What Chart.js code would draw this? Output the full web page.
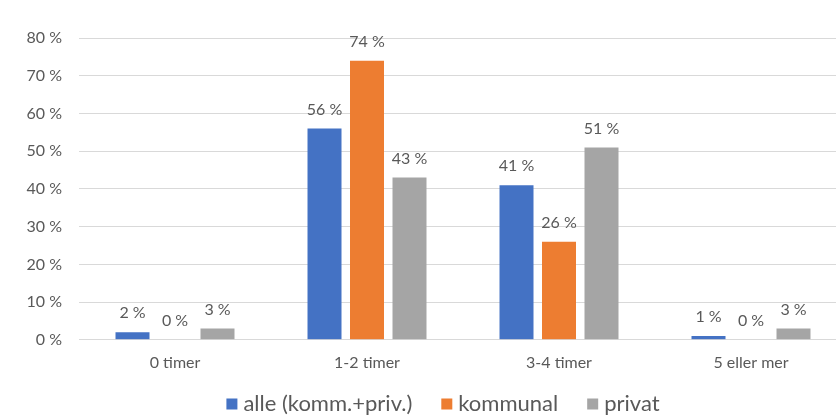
<!DOCTYPE html>
<html>
<head>
<meta charset="utf-8">
<script src="https://cdn.jsdelivr.net/npm/chart.js@4/dist/chart.umd.min.js"></script>
<style>
  html, body { margin: 0; padding: 0; background: #fff; overflow: hidden; }
  #wrap { width: 836px; height: 416px; overflow: hidden; }
</style>
</head>
<body>
<div id="wrap"><canvas id="c" width="847" height="416"></canvas></div>
<script>
// Categories and series (percent)
const categories = ['0 timer', '1-2 timer', '3-4 timer', '5 eller mer'];
const alle = [2, 56, 41, 1];
const kommunal = [0, 74, 26, 0];
const privat = [3, 43, 51, 3];
const seriesNames = ['alle (komm.+priv.)', 'kommunal', 'privat'];
const seriesColors = ['#4472c4', '#ed7d31', '#a5a5a5'];
const yTicks = [0, 10, 20, 30, 40, 50, 60, 70, 80];

const FONT = 'Lato, "Liberation Sans", sans-serif';
const TEXT = '#595959';

// Value labels above each bar
const valueLabels = {
  id: 'valueLabels',
  afterDatasetsDraw(chart) {
    const ctx = chart.ctx;
    ctx.save();
    ctx.font = '16px ' + FONT;
    ctx.fillStyle = TEXT;
    ctx.textAlign = 'center';
    ctx.textBaseline = 'middle';
    chart.data.datasets.forEach((ds, i) => {
      chart.getDatasetMeta(i).data.forEach((bar, j) => {
        ctx.fillText(ds.data[j] + ' %', bar.x, bar.y - 19);
      });
    });
    ctx.restore();
  }
};

// Legend row along the bottom
const bottomLegend = {
  id: 'bottomLegend',
  afterDraw(chart) {
    const ctx = chart.ctx;
    const box = 11, gapText = 6, gapItem = 29;
    ctx.save();
    ctx.font = '22px ' + FONT;
    ctx.textBaseline = 'middle';
    const items = chart.data.datasets.map(ds => ({
      text: ds.label, color: ds.backgroundColor, w: ctx.measureText(ds.label).width
    }));
    const total = items.reduce((s, it) => s + box + gapText + it.w, 0) + gapItem * (items.length - 1);
    const cx = 443;
    const cy = 404;
    let x = cx - total / 2;
    items.forEach(it => {
      ctx.fillStyle = it.color;
      ctx.fillRect(x, cy - box / 2, box, box);
      x += box + gapText;
      ctx.fillStyle = TEXT;
      ctx.fillText(it.text, x, cy);
      x += it.w + gapItem;
    });
    ctx.restore();
  }
};

new Chart(document.getElementById('c'), {
  type: 'bar',
  data: {
    labels: categories,
    datasets: seriesNames.map((name, i) => ({
      label: name,
      data: [alle, kommunal, privat][i],
      backgroundColor: seriesColors[i]
    }))
  },
  options: {
    responsive: false,
    animation: false,
    devicePixelRatio: 1,
    layout: { padding: { top: 38, right: 0, bottom: 31, left: 0 } },
    datasets: { bar: { barPercentage: 0.8, categoryPercentage: 0.664 } },
    scales: {
      x: {
        grid: { display: false, drawTicks: false },
        border: { color: '#d9d9d9' },
        ticks: { color: TEXT, font: { family: FONT, size: 16 }, padding: 13 }
      },
      y: {
        min: 0, max: 80,
        afterBuildTicks(axis) { axis.ticks = yTicks.map(v => ({ value: v })); },
        afterFit(axis) { axis.width = 79; },
        grid: { color: '#d9d9d9', drawTicks: false },
        border: { display: false },
        ticks: {
          color: TEXT, font: { family: FONT, size: 16 }, padding: 17,
          callback: v => v + ' %'
        }
      }
    },
    plugins: {
      legend: { display: false },
      tooltip: { enabled: false }
    }
  },
  plugins: [valueLabels, bottomLegend]
});
</script>
</body>
</html>
